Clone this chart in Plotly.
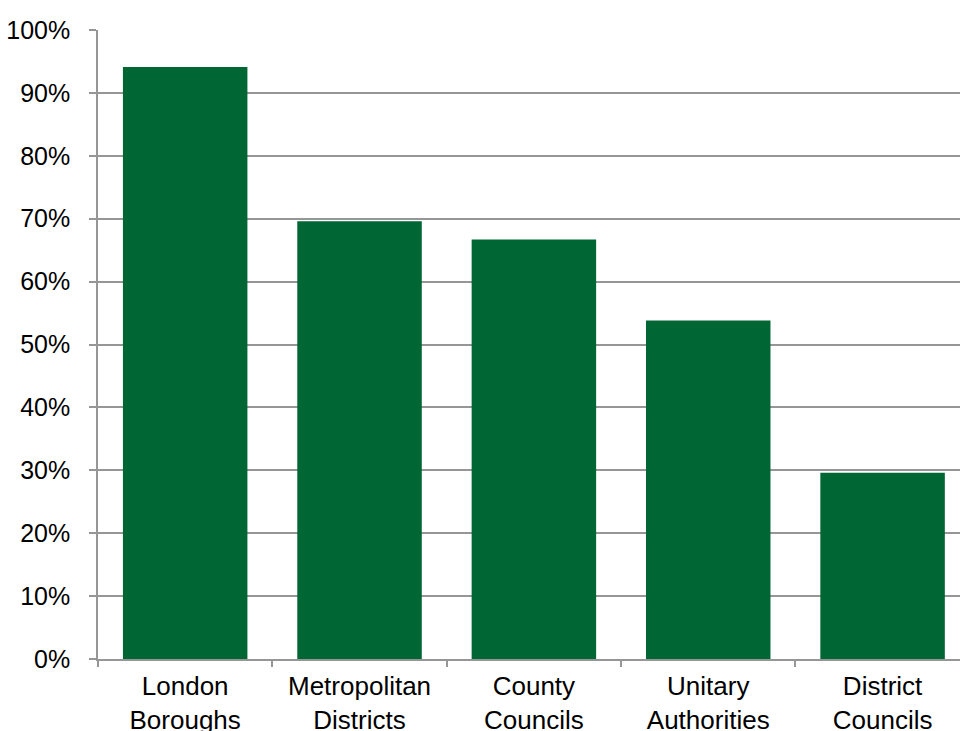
import plotly.graph_objects as go

categories = ["London<br>Boroughs", "Metropolitan<br>Districts", "County<br>Councils",
              "Unitary<br>Authorities", "District<br>Councils"]
values = [94.1, 69.6, 66.7, 53.8, 29.6]
y_ticks = list(range(0, 101, 10))
y_tick_labels = [f"{v}%" for v in y_ticks]

fig = go.Figure()
fig.add_trace(go.Bar(
    x=categories, y=values,
    marker=dict(color="#006633", line=dict(width=0)),
    hoverinfo="skip",
))

xfont = dict(family="Liberation Sans, Arial, sans-serif", size=26, color="#000000")
yfont = dict(family="Liberation Sans, Arial, sans-serif", size=25, color="#000000")

fig.update_layout(
    width=960, height=731,
    margin=dict(l=97.7, r=0, t=29.5, b=72),
    paper_bgcolor="white", plot_bgcolor="white",
    bargap=0.286,
    showlegend=False,
    font=xfont,
    xaxis=dict(
        type="category",
        range=[-0.5, 4.444],
        automargin=False,
        showgrid=False,
        showline=True, linecolor="#969696", linewidth=1.5,
        ticks="outside", ticklen=6, tickcolor="#969696", tickwidth=1.5,
        tickson="boundaries",
        tickfont=xfont,
        ticklabelstandoff=3,
    ),
    yaxis=dict(
        range=[0, 100],
        automargin=False,
        tickvals=y_ticks, ticktext=y_tick_labels,
        showgrid=True, gridcolor="#969696", gridwidth=1.5,
        zeroline=False,
        showline=True, linecolor="#969696", linewidth=1.5,
        ticks="outside", ticklen=7, tickcolor="#969696", tickwidth=1.5,
        tickfont=yfont,
        ticklabelstandoff=14,
    ),
)

fig.write_html(
    "out.html",
    config={"displayModeBar": False},
    post_script="document.body.style.margin='0';document.body.style.overflow='hidden';",
)
